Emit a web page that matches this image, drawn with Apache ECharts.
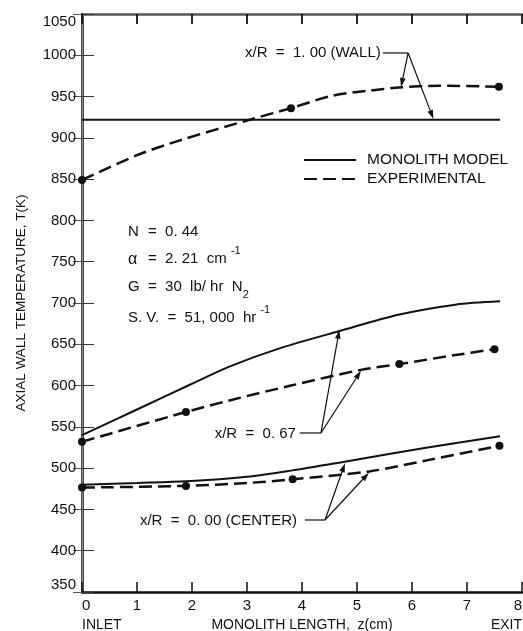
<!DOCTYPE html>
<html>
<head>
<meta charset="utf-8">
<script src="https://cdn.jsdelivr.net/npm/echarts@6/dist/echarts.min.js"></script>
<style>
  html, body { margin: 0; padding: 0; background: #fff; }
  #chart { width: 523px; height: 631px; }
</style>
</head>
<body>
<div id="chart"></div>
<script>
// Axial wall temperature T (K) along the monolith length z (cm)
const zTicks = [0, 1, 2, 3, 4, 5, 6, 7, 8];
const tTicks = [350, 400, 450, 500, 550, 600, 650, 700, 750, 800, 850, 900, 950, 1000, 1050];

// x/R = 1.00 (wall)
const wallModelZ = [0, 7.6];
const wallModelT = [922, 922];
const wallExpZ = [0, 1, 1.78, 3.05, 3.8, 4.55, 5.2, 5.77, 6.5, 7.58];
const wallExpT = [849, 879, 897, 922, 936, 951, 957, 961, 963, 962];
const wallExpMeasured = [0, 3.8, 7.58];

// x/R = 0.67
const midModelZ = [0, 1, 1.96, 2.68, 3.59, 4.68, 5.77, 6.79, 7.6];
const midModelT = [540, 571, 601, 623, 645, 666, 686, 698, 702];
const midExpZ = [0, 1.89, 2.68, 3.8, 5.07, 5.77, 6.79, 7.5];
const midExpT = [532, 568, 582, 600, 619, 626, 637, 644];
const midExpMeasured = [0, 1.89, 5.77, 7.5];

// x/R = 0.00 (center)
const centerModelZ = [0, 1, 1.9, 3, 3.8, 4.75, 6.2, 7.6];
const centerModelT = [480, 482, 484, 489.5, 497, 507.5, 524, 538.5];
const centerExpZ = [0, 1.89, 3, 3.83, 5.22, 6.31, 7.59];
const centerExpT = [476.5, 478.5, 482, 486.5, 496, 510, 527];
const centerExpMeasured = [0, 1.89, 3.83, 7.59];

const FONT = "'Liberation Sans', Arial, sans-serif";
const INK = '#111';

function pairs(zs, ts, measured) {
  return zs.map((z, i) => {
    const item = { value: [z, ts[i]] };
    if (measured && measured.indexOf(z) >= 0) {
      item.symbol = 'circle';
      item.symbolSize = 8;
    }
    return item;
  });
}

function modelSeries(zs, ts) {
  return {
    name: 'MONOLITH MODEL', type: 'line', data: pairs(zs, ts),
    smooth: 0.3, symbol: 'none',
    lineStyle: { color: INK, width: 2 }, itemStyle: { color: INK },
    silent: true, z: 3
  };
}
function expSeries(zs, ts, measured) {
  return {
    name: 'EXPERIMENTAL', type: 'line', data: pairs(zs, ts, measured),
    smooth: 0.3, symbol: 'none',
    lineStyle: { color: INK, width: 2.5, type: [13, 6] }, itemStyle: { color: INK },
    silent: true, z: 3
  };
}

const chart = echarts.init(document.getElementById('chart'), null, { renderer: 'canvas' });

chart.setOption({
  animation: false,
  backgroundColor: '#fff',
  grid: { left: 82, right: 1, top: 14, bottom: 39, containLabel: false, outerBoundsMode: 'none' },
  legend: {
    orient: 'vertical', left: 303, top: 152, padding: 0, itemWidth: 52, itemHeight: 14, itemGap: 3,
    selectedMode: false, align: 'left',
    data: ['MONOLITH MODEL', 'EXPERIMENTAL'],
    itemStyle: { opacity: 0 },
    textStyle: { fontFamily: FONT, fontSize: 15.5, color: INK, padding: [0, 0, 0, 6] }
  },
  xAxis: [
    {
      type: 'value', min: zTicks[0], max: zTicks[zTicks.length - 1], interval: 1, position: 'bottom',
      axisLine: { show: true, lineStyle: { color: INK, width: 2.5 } },
      axisTick: { show: true, inside: true, length: 10, lineStyle: { color: INK, width: 1.5 } },
      splitLine: { show: false },
      axisLabel: { fontFamily: FONT, fontSize: 15, color: INK, margin: 6, alignMinLabel: 'left', alignMaxLabel: 'right' },
      name: 'MONOLITH LENGTH,  z(cm)', nameLocation: 'middle', nameGap: 26,
      nameTextStyle: { fontFamily: FONT, fontSize: 14, color: INK }
    },
    {
      // INLET / EXIT under the ends of the length axis
      type: 'value', min: zTicks[0], max: zTicks[zTicks.length - 1], interval: 8, position: 'bottom', offset: 26,
      axisLine: { show: false }, axisTick: { show: false }, splitLine: { show: false },
      axisLabel: {
        fontFamily: FONT, fontSize: 14, color: INK, margin: 0, alignMinLabel: 'left', alignMaxLabel: 'right',
        formatter: v => (v === 0 ? 'INLET' : (v === 8 ? 'EXIT' : ''))
      }
    },
    {
      type: 'value', min: zTicks[0], max: zTicks[zTicks.length - 1], interval: 1, position: 'top',
      axisLine: { show: true, lineStyle: { color: '#555', width: 2.5 } },
      axisTick: { show: true, inside: true, length: 10, lineStyle: { color: INK, width: 1.8 } },
      axisLabel: { show: false }, splitLine: { show: false }
    }
  ],
  yAxis: [
    {
      type: 'value', min: tTicks[0], max: tTicks[tTicks.length - 1], interval: 50, position: 'left',
      axisLine: { show: true, lineStyle: { color: INK, width: 2.5 } },
      axisTick: { show: true, inside: true, length: 12, lineStyle: { color: '#333', width: 1 } },
      splitLine: { show: false },
      axisLabel: {
        fontFamily: FONT, fontSize: 15, color: INK, margin: 6,
        formatter: v => String(v),
        verticalAlignMinLabel: 'bottom', verticalAlignMaxLabel: 'top'
      },
      name: 'AXIAL WALL TEMPERATURE, T(K)', nameLocation: 'middle', nameRotate: 90, nameGap: 54,
      nameTextStyle: { fontFamily: FONT, fontSize: 13.5, color: INK }
    },
    {
      type: 'value', min: tTicks[0], max: tTicks[tTicks.length - 1], interval: 50, position: 'right',
      axisLine: { show: true, lineStyle: { color: '#888', width: 1 } },
      axisTick: { show: true, inside: true, length: 9, lineStyle: { color: '#555', width: 1 } },
      axisLabel: { show: false }, splitLine: { show: false }
    }
  ],
  series: [
    modelSeries(wallModelZ, wallModelT),
    expSeries(wallExpZ, wallExpT, wallExpMeasured),
    modelSeries(midModelZ, midModelT),
    expSeries(midExpZ, midExpT, midExpMeasured),
    modelSeries(centerModelZ, centerModelT),
    expSeries(centerExpZ, centerExpT, centerExpMeasured)
  ]
});

// ---- annotations, anchored in (z, T) units ----
const P = (z, t) => chart.convertToPixel({ gridIndex: 0 }, [z, t]);

const SCRIPTS = {
  sup: { fontFamily: FONT, fontSize: 11, fill: INK, verticalAlign: 'top', lineHeight: 10 },
  sub: { fontFamily: FONT, fontSize: 11, fill: INK, verticalAlign: 'bottom', lineHeight: 10 }
};

function text(z, t, str, align, size) {
  const [x, y] = P(z, t);
  return {
    type: 'text', x: x, y: y, silent: true, z: 10,
    style: {
      text: str, fontFamily: FONT, fontSize: size || 15, fill: INK, lineHeight: 28,
      align: align || 'left', verticalAlign: 'middle', rich: SCRIPTS
    }
  };
}
function seg(a, b) {
  const [x1, y1] = P(a[0], a[1]);
  const [x2, y2] = P(b[0], b[1]);
  return { type: 'line', silent: true, z: 10, shape: { x1, y1, x2, y2 }, style: { stroke: INK, lineWidth: 1.2 } };
}
function arrow(from, to) {
  const [x1, y1] = P(from[0], from[1]);
  const [x2, y2] = P(to[0], to[1]);
  const dx = x2 - x1, dy = y2 - y1, len = Math.hypot(dx, dy);
  const ux = dx / len, uy = dy / len, L = 9, W = 2.8;
  const bx = x2 - ux * L, by = y2 - uy * L;
  return [
    { type: 'line', silent: true, z: 10, shape: { x1, y1, x2: bx, y2: by }, style: { stroke: INK, lineWidth: 1.2 } },
    { type: 'polygon', silent: true, z: 10, shape: { points: [[x2, y2], [bx - uy * W, by + ux * W], [bx + uy * W, by - ux * W]] }, style: { fill: INK } }
  ];
}

// label positions and leader geometry (z, T)
const wallLabel = [2.964, 1002.8], wallLeader = [5.47, 1002.8], wallElbow = [5.93, 1002.8];
const wallTipExp = [5.8, 961.6], wallTipModel = [6.39, 922.8];
const midLabel = [3.89, 541.3], midLeader = [3.96, 542.6], midElbow = [4.345, 542.6];
const midTipModel = [4.678, 667.3], midTipExp = [5.073, 618];
const cenLabel = [3.91, 436.6], cenLeader = [4.055, 437.2], cenElbow = [4.418, 437.2];
const cenTipModel = [4.782, 505.9], cenTipExp = [5.218, 494.5];

const g = [];
g.push(text(wallLabel[0], wallLabel[1], 'x/R  =  1. 00 (WALL)', 'left', 15));
g.push(seg(wallLeader, wallElbow));
g.push(...arrow(wallElbow, wallTipExp), ...arrow(wallElbow, wallTipModel));

g.push(text(midLabel[0], midLabel[1], 'x/R  =  0. 67', 'right', 15));
g.push(seg(midLeader, midElbow));
g.push(...arrow(midElbow, midTipModel), ...arrow(midElbow, midTipExp));

g.push(text(cenLabel[0], cenLabel[1], 'x/R  =  0. 00 (CENTER)', 'right', 15));
g.push(seg(cenLeader, cenElbow));
g.push(...arrow(cenElbow, cenTipModel), ...arrow(cenElbow, cenTipExp));

// operating conditions
g.push(text(0.836, 786.3, 'N', 'left', 15));
g.push(text(1.2, 786.3, '=  0. 44', 'left', 15));
g.push(text(0.836, 752.9, 'α', 'left', 16));
g.push(text(1.2, 752.9, '=  2. 21  cm {sup|-1}', 'left', 15));
g.push(text(0.836, 719.8, 'G', 'left', 15));
g.push(text(1.2, 719.8, '=  30  lb/ hr  N{sub|2}', 'left', 15));
g.push(text(0.836, 681.5, 'S. V.  =  51, 000  hr {sup|-1}', 'left', 15));

chart.setOption({ graphic: g });
</script>
</body>
</html>
